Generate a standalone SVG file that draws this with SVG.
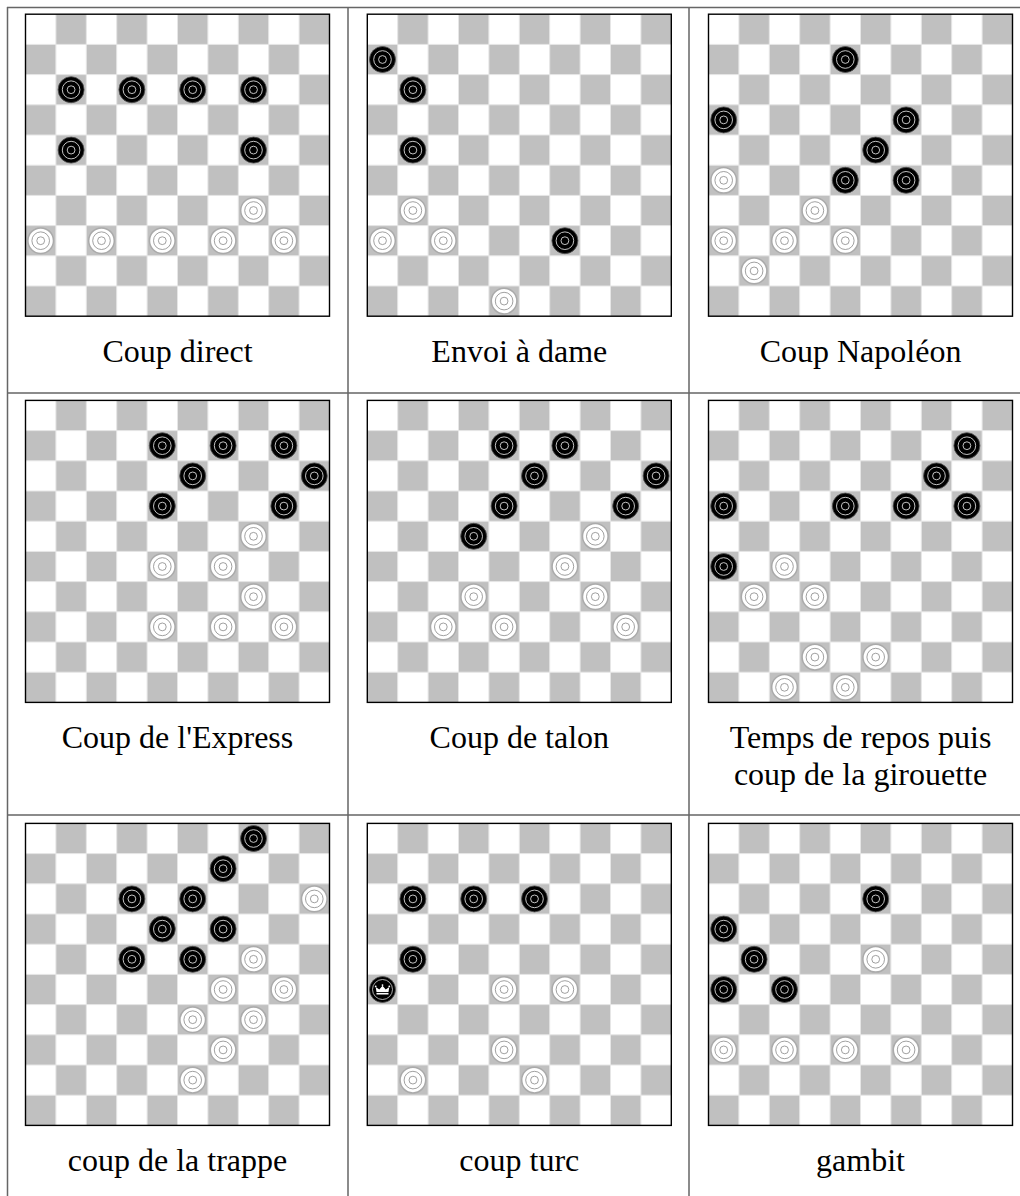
<svg xmlns="http://www.w3.org/2000/svg" xmlns:xlink="http://www.w3.org/1999/xlink" width="1020" height="1196" viewBox="0 0 1020 1196">
<style>
.cap{font-family:"Liberation Serif","Times New Roman",serif;font-size:32px;fill:#000;text-anchor:middle}
.tl{stroke:#666;stroke-width:1.5;fill:none}
</style>
<defs>
<g id="board">
<rect width="304" height="302" fill="#fff"/>
<path transform="scale(30.4 30.2)" fill="#c0c0c0" d="M1 0h1v1h-1zM3 0h1v1h-1zM5 0h1v1h-1zM7 0h1v1h-1zM9 0h1v1h-1zM0 1h1v1h-1zM2 1h1v1h-1zM4 1h1v1h-1zM6 1h1v1h-1zM8 1h1v1h-1zM1 2h1v1h-1zM3 2h1v1h-1zM5 2h1v1h-1zM7 2h1v1h-1zM9 2h1v1h-1zM0 3h1v1h-1zM2 3h1v1h-1zM4 3h1v1h-1zM6 3h1v1h-1zM8 3h1v1h-1zM1 4h1v1h-1zM3 4h1v1h-1zM5 4h1v1h-1zM7 4h1v1h-1zM9 4h1v1h-1zM0 5h1v1h-1zM2 5h1v1h-1zM4 5h1v1h-1zM6 5h1v1h-1zM8 5h1v1h-1zM1 6h1v1h-1zM3 6h1v1h-1zM5 6h1v1h-1zM7 6h1v1h-1zM9 6h1v1h-1zM0 7h1v1h-1zM2 7h1v1h-1zM4 7h1v1h-1zM6 7h1v1h-1zM8 7h1v1h-1zM1 8h1v1h-1zM3 8h1v1h-1zM5 8h1v1h-1zM7 8h1v1h-1zM9 8h1v1h-1zM0 9h1v1h-1zM2 9h1v1h-1zM4 9h1v1h-1zM6 9h1v1h-1zM8 9h1v1h-1z"/>
<path stroke="#e6e6e6" stroke-width="1" fill="none" d="M30.4 0V302M60.8 0V302M91.2 0V302M121.6 0V302M152 0V302M182.4 0V302M212.8 0V302M243.2 0V302M273.6 0V302M0 30.2H304M0 60.4H304M0 90.6H304M0 120.8H304M0 151H304M0 181.2H304M0 211.4H304M0 241.6H304M0 271.8H304"/>
<rect width="304" height="302" fill="none" stroke="#000" stroke-width="1.4"/>
</g>
<g id="b">
<circle r="13" fill="#000" stroke="#555" stroke-width="0.8"/>
<circle r="8.8" fill="none" stroke="#d8d8d8" stroke-width="0.9"/>
<circle r="3.9" fill="none" stroke="#d8d8d8" stroke-width="0.9"/>
</g>
<g id="w">
<circle r="12.8" fill="#fff" stroke="#aaa" stroke-width="1.5"/>
<circle r="8.8" fill="none" stroke="#888" stroke-width="0.8"/>
<circle r="3.9" fill="none" stroke="#888" stroke-width="0.8"/>
</g>
<g id="k">
<circle r="13" fill="#000" stroke="#555" stroke-width="0.8"/>
<circle r="10" fill="none" stroke="#d8d8d8" stroke-width="0.8"/>
<path fill="#fff" d="M-6 2.5L-6.8 -2.5L-3.2 0L0 -3.8L3.2 0L6.8 -2.5L6 2.5Z"/>
<rect x="-6" y="3.4" width="12" height="1.6" fill="#fff"/>
<circle cx="-6.8" cy="-3.2" r="0.9" fill="#fff"/>
<circle cx="0" cy="-4.4" r="0.9" fill="#fff"/>
<circle cx="6.8" cy="-3.2" r="0.9" fill="#fff"/>
</g>
</defs>
<rect width="1020" height="1196" fill="#fff"/>
<g id="table-lines">
<path class="tl" d="M7 7.5H1020M7 393H1020M7 815H1020M7.5 7V1196M348 7V1196M689 7V1196"/>
</g>
<g id="connectors"></g>

<g id="cell-coup-direct">
<g transform="translate(25.5 14.2)">
<use href="#board"/>
<use href="#b" x="45.6" y="75.5"/><use href="#b" x="106.4" y="75.5"/><use href="#b" x="167.2" y="75.5"/><use href="#b" x="228" y="75.5"/>
<use href="#b" x="45.6" y="135.9"/><use href="#b" x="228" y="135.9"/>
<use href="#w" x="228" y="196.3"/>
<use href="#w" x="15.2" y="226.5"/><use href="#w" x="76" y="226.5"/><use href="#w" x="136.8" y="226.5"/><use href="#w" x="197.6" y="226.5"/><use href="#w" x="258.4" y="226.5"/>
</g>
<text class="cap" x="177.5" y="362">Coup direct</text>
</g>

<g id="cell-envoi-a-dame">
<g transform="translate(367.3 14.2)">
<use href="#board"/>
<use href="#b" x="15.2" y="45.3"/><use href="#b" x="45.6" y="75.5"/><use href="#b" x="45.6" y="135.9"/><use href="#b" x="197.6" y="226.5"/>
<use href="#w" x="45.6" y="196.3"/><use href="#w" x="15.2" y="226.5"/><use href="#w" x="76" y="226.5"/><use href="#w" x="136.8" y="286.9"/>
</g>
<text class="cap" x="519.3" y="362">Envoi à dame</text>
</g>

<g id="cell-coup-napoleon">
<g transform="translate(708.5 14.2)">
<use href="#board"/>
<use href="#b" x="136.8" y="45.3"/><use href="#b" x="15.2" y="105.7"/><use href="#b" x="197.6" y="105.7"/><use href="#b" x="167.2" y="135.9"/><use href="#b" x="136.8" y="166.1"/><use href="#b" x="197.6" y="166.1"/>
<use href="#w" x="15.2" y="166.1"/><use href="#w" x="106.4" y="196.3"/><use href="#w" x="15.2" y="226.5"/><use href="#w" x="76" y="226.5"/><use href="#w" x="136.8" y="226.5"/><use href="#w" x="45.6" y="256.7"/>
</g>
<text class="cap" x="860.5" y="362">Coup Napoléon</text>
</g>

<g id="cell-coup-express">
<g transform="translate(25.5 400.4)">
<use href="#board"/>
<use href="#b" x="136.8" y="45.3"/><use href="#b" x="197.6" y="45.3"/><use href="#b" x="258.4" y="45.3"/><use href="#b" x="167.2" y="75.5"/><use href="#b" x="288.8" y="75.5"/><use href="#b" x="136.8" y="105.7"/><use href="#b" x="258.4" y="105.7"/>
<use href="#w" x="228" y="135.9"/><use href="#w" x="136.8" y="166.1"/><use href="#w" x="197.6" y="166.1"/><use href="#w" x="228" y="196.3"/><use href="#w" x="136.8" y="226.5"/><use href="#w" x="197.6" y="226.5"/><use href="#w" x="258.4" y="226.5"/>
</g>
<text class="cap" x="177.5" y="748">Coup de l'Express</text>
</g>

<g id="cell-coup-talon">
<g transform="translate(367.3 400.4)">
<use href="#board"/>
<use href="#b" x="136.8" y="45.3"/><use href="#b" x="197.6" y="45.3"/><use href="#b" x="167.2" y="75.5"/><use href="#b" x="288.8" y="75.5"/><use href="#b" x="136.8" y="105.7"/><use href="#b" x="258.4" y="105.7"/><use href="#b" x="106.4" y="135.9"/>
<use href="#w" x="228" y="135.9"/><use href="#w" x="197.6" y="166.1"/><use href="#w" x="106.4" y="196.3"/><use href="#w" x="228" y="196.3"/><use href="#w" x="76" y="226.5"/><use href="#w" x="136.8" y="226.5"/><use href="#w" x="258.4" y="226.5"/>
</g>
<text class="cap" x="519.3" y="748">Coup de talon</text>
</g>

<g id="cell-girouette">
<g transform="translate(708.5 400.4)">
<use href="#board"/>
<use href="#b" x="258.4" y="45.3"/><use href="#b" x="228" y="75.5"/><use href="#b" x="15.2" y="105.7"/><use href="#b" x="136.8" y="105.7"/><use href="#b" x="197.6" y="105.7"/><use href="#b" x="258.4" y="105.7"/><use href="#b" x="15.2" y="166.1"/>
<use href="#w" x="76" y="166.1"/><use href="#w" x="45.6" y="196.3"/><use href="#w" x="106.4" y="196.3"/><use href="#w" x="106.4" y="256.7"/><use href="#w" x="167.2" y="256.7"/><use href="#w" x="76" y="286.9"/><use href="#w" x="136.8" y="286.9"/>
</g>
<text class="cap" x="860.5" y="748">Temps de repos puis</text>
<text class="cap" x="860.5" y="785">coup de la girouette</text>
</g>

<g id="cell-coup-trappe">
<g transform="translate(25.5 823.4)">
<use href="#board"/>
<use href="#b" x="228" y="15.1"/><use href="#b" x="197.6" y="45.3"/><use href="#b" x="106.4" y="75.5"/><use href="#b" x="167.2" y="75.5"/><use href="#b" x="136.8" y="105.7"/><use href="#b" x="197.6" y="105.7"/><use href="#b" x="106.4" y="135.9"/><use href="#b" x="167.2" y="135.9"/>
<use href="#w" x="288.8" y="75.5"/><use href="#w" x="228" y="135.9"/><use href="#w" x="197.6" y="166.1"/><use href="#w" x="258.4" y="166.1"/><use href="#w" x="167.2" y="196.3"/><use href="#w" x="228" y="196.3"/><use href="#w" x="197.6" y="226.5"/><use href="#w" x="167.2" y="256.7"/>
</g>
<text class="cap" x="177.5" y="1171">coup de la trappe</text>
</g>

<g id="cell-coup-turc">
<g transform="translate(367.3 823.4)">
<use href="#board"/>
<use href="#b" x="45.6" y="75.5"/><use href="#b" x="106.4" y="75.5"/><use href="#b" x="167.2" y="75.5"/><use href="#b" x="45.6" y="135.9"/>
<use href="#k" x="15.2" y="166.1"/>
<use href="#w" x="136.8" y="166.1"/><use href="#w" x="197.6" y="166.1"/><use href="#w" x="136.8" y="226.5"/><use href="#w" x="45.6" y="256.7"/><use href="#w" x="167.2" y="256.7"/>
</g>
<text class="cap" x="519.3" y="1171">coup turc</text>
</g>

<g id="cell-gambit">
<g transform="translate(708.5 823.4)">
<use href="#board"/>
<use href="#b" x="167.2" y="75.5"/><use href="#b" x="15.2" y="105.7"/><use href="#b" x="45.6" y="135.9"/><use href="#b" x="15.2" y="166.1"/><use href="#b" x="76" y="166.1"/>
<use href="#w" x="167.2" y="135.9"/><use href="#w" x="15.2" y="226.5"/><use href="#w" x="76" y="226.5"/><use href="#w" x="136.8" y="226.5"/><use href="#w" x="197.6" y="226.5"/>
</g>
<text class="cap" x="860.5" y="1171">gambit</text>
</g>
</svg>
